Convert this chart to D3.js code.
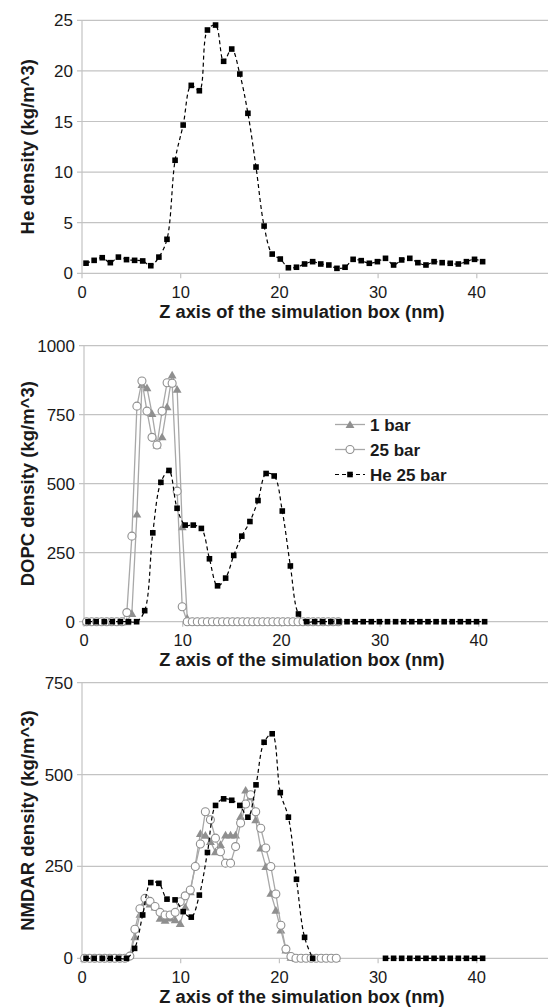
<!DOCTYPE html>
<html><head><meta charset="utf-8">
<script src="https://cdn.jsdelivr.net/npm/d3@7"></script>
<style>html,body{margin:0;padding:0;background:#fff;} svg{display:block;}</style>
</head><body>
<svg id="chart" width="548" height="1007"></svg>
<script>
// ---------- DATA ----------
const xTicks = [0, 10, 20, 30, 40];
const xTitle = "Z axis of the simulation box (nm)";

// He profile sampling positions (nm)
const heZ = [0.41, 1.23, 2.05, 2.87, 3.69, 4.51, 5.33, 6.15, 6.97, 7.79, 8.61, 9.43, 10.25, 11.07, 11.89, 12.71, 13.53, 14.35, 15.17, 15.99, 16.81, 17.63, 18.45, 19.27, 20.09, 20.91, 21.73, 22.55, 23.37, 24.19, 25.01, 25.83, 26.65, 27.47, 28.29, 29.11, 29.93, 30.75, 31.57, 32.39, 33.21, 34.03, 34.85, 35.67, 36.49, 37.31, 38.13, 38.95, 39.77, 40.59];
// 1 bar / 25 bar profile sampling positions (nm)
const grayZ = [0.26, 0.77, 1.28, 1.79, 2.30, 2.81, 3.32, 3.83, 4.34, 4.85, 5.36, 5.87, 6.38, 6.89, 7.40, 7.91, 8.42, 8.93, 9.44, 9.95, 10.46, 10.97, 11.48, 11.99, 12.50, 13.01, 13.52, 14.03, 14.54, 15.05, 15.56, 16.07, 16.58, 17.09, 17.60, 18.11, 18.62, 19.13, 19.64, 20.15, 20.66, 21.17, 21.68, 22.19, 22.70, 23.21, 23.72, 24.23, 24.74, 25.25, 25.76];

// Panel 1: He density
const heTicks = [0, 5, 10, 15, 20, 25];
const heDensity = [1.0, 1.28, 1.54, 1.05, 1.6, 1.35, 1.28, 1.22, 0.75, 1.6, 3.36, 11.17, 14.65, 18.57, 18.04, 24.04, 24.53, 20.95, 22.16, 19.69, 15.81, 10.5, 4.67, 1.9, 1.41, 0.55, 0.6, 0.92, 1.15, 0.92, 0.82, 0.49, 0.6, 1.38, 1.25, 0.99, 1.15, 1.48, 0.82, 1.32, 1.48, 1.05, 0.82, 1.15, 1.05, 0.99, 0.92, 1.15, 1.38, 1.15];

// Panel 2: DOPC density
const dopcTicks = [0, 250, 500, 750, 1000];
const dopc1bar = [0, 0, 0, 0, 0, 0, 0, 0, 0, 30, 390, 860, 848, 755, 640, 670, 779, 894, 842, 344, 13, 0, 0, 0, 0, 0, 0, 0, 0, 0, 0, 0, 0, 0, 0, 0, 0, 0, 0, 0, 0, 0, 0, 0, 0, 0, 0, 0, 0, 0, 0];
const dopc25bar = [0, 0, 0, 0, 0, 0, 0, 0, 33, 310, 781, 872, 763, 668, 640, 763, 866, 864, 473, 54, 0, 0, 0, 0, 0, 0, 0, 0, 0, 0, 0, 0, 0, 0, 0, 0, 0, 0, 0, 0, 0, 0, 0, 0, 0, 0, 0, 0, 0, 0, 0];
const dopcHe25 = [0, 0, 0, 0, 0, 0, 0, 40, 322, 505, 548, 411, 350, 350, 338, 228, 130, 158, 240, 310, 363, 439, 537, 528, 401, 202, 28, 0, 0, 0, 0, 0, 0, 0, 0, 0, 0, 0, 0, 0, 0, 0, 0, 0, 0, 0, 0, 0, 0, 0];

// Panel 3: NMDAR density
const nmdarTicks = [0, 250, 500, 750];
const nmdar1bar = [0, 0, 0, 0, 0, 0, 0, 0, 0, 8, 59, 120, 154, 148, 140, 109, 104, 110, 105, 95, 140, 181, 254, 340, 335, 318, 290, 310, 336, 336, 336, 386, 458, 440, 377, 300, 250, 177, 131, 77, 23, 3, 0, 0, 0, 0, 0, 0, 0, 0, 0];
const nmdar25bar = [0, 0, 0, 0, 0, 0, 0, 0, 0, 6, 79, 135, 163, 155, 141, 125, 118, 118, 125, 154, 170, 186, 250, 311, 399, 377, 327, 290, 259, 259, 304, 368, 420, 445, 399, 354, 300, 250, 175, 90, 25, 5, 0, 0, 0, 0, 0, 0, 0, 0, 0];
const nmdarHe25 = [0, 0, 0, 0, 0, 0, 27, 118, 206, 204, 161, 159, 127, 112, 172, 288, 416, 434, 430, 416, 384, 472, 588, 611, 451, 384, 215, 57, 0, null, null, null, null, null, null, null, null, 0, 0, 0, 0, 0, 0, 0, 0, 0, 0, 0, 0, 0];

const legendLabels = ["1 bar", "25 bar", "He 25 bar"];

// ---------- DRAWING ----------
const svg = d3.select("#chart");
const FONT = "'Liberation Sans', Arial, Helvetica, sans-serif";
const GRID = "#c3c3c3";
const GRAY = "#8f8f8f";
const GRAYLINE = "#a8a8a8";
const TXT = "#1a1a1a";

const panels = [
  {left: 82, top: 20.3, bottom: 273.3, yMax: 25, ticks: heTicks, title: "He density (kg/m^3)",
   series: [{z: heZ, v: heDensity, type: "he"}]},
  {left: 84, top: 345.7, bottom: 621.7, yMax: 1000, ticks: dopcTicks, title: "DOPC density (kg/m^3)",
   series: [{z: grayZ, v: dopc1bar, type: "tri"}, {z: grayZ, v: dopc25bar, type: "circ"}, {z: heZ, v: dopcHe25, type: "he"}],
   legend: true},
  {left: 82, top: 682.7, bottom: 958.3, yMax: 750, ticks: nmdarTicks, title: "NMDAR density (kg/m^3)",
   series: [{z: grayZ, v: nmdar1bar, type: "tri"}, {z: grayZ, v: nmdar25bar, type: "circ"}, {z: heZ, v: nmdarHe25, type: "he"}]}
];

const triPath = d3.symbol(d3.symbolTriangle, 34)();

function drawMarker(g, type, x, y) {
  if (type === "tri") {
    g.append("path").attr("d", triPath).attr("transform", `translate(${x},${y + 1})`)
      .attr("fill", GRAY).attr("stroke", "none");
  } else if (type === "circ") {
    g.append("circle").attr("cx", x).attr("cy", y).attr("r", 4)
      .attr("fill", "#fff").attr("stroke", GRAY).attr("stroke-width", 1.1);
  } else {
    g.append("rect").attr("x", x - 2.8).attr("y", y - 2.8).attr("width", 5.6).attr("height", 5.6)
      .attr("fill", "#000");
  }
}

panels.forEach(p => {
  const x = d3.scaleLinear().domain([0, 50]).range([p.left, p.left + 493.5]);
  const y = d3.scaleLinear().domain([0, p.yMax]).range([p.bottom, p.top]);
  const g = svg.append("g");

  // gridlines
  g.selectAll(".grid").data(p.ticks).join("line")
    .attr("x1", p.left - 5).attr("x2", 548)
    .attr("y1", d => y(d)).attr("y2", d => y(d))
    .attr("stroke", GRID).attr("stroke-width", 1.2);
  // y axis line
  g.append("line").attr("x1", p.left).attr("x2", p.left)
    .attr("y1", y(p.yMax)).attr("y2", y(0)).attr("stroke", GRID).attr("stroke-width", 1.2);
  // x ticks
  g.selectAll(".xt").data(xTicks).join("line")
    .attr("x1", d => x(d)).attr("x2", d => x(d))
    .attr("y1", y(0)).attr("y2", y(0) + 5)
    .attr("stroke", GRID).attr("stroke-width", 1.2);
  // y tick labels
  g.selectAll(".yl").data(p.ticks).join("text")
    .attr("x", p.left - 9).attr("y", d => y(d) + 6)
    .attr("text-anchor", "end").attr("font-family", FONT).attr("font-size", 17)
    .attr("fill", TXT).text(d => d);
  // x tick labels
  g.selectAll(".xl").data(xTicks).join("text")
    .attr("x", d => x(d)).attr("y", y(0) + 24.3)
    .attr("text-anchor", "middle").attr("font-family", FONT).attr("font-size", 16.5)
    .attr("fill", TXT).text(d => d);
  // x title
  g.append("text").attr("x", 302).attr("y", y(0) + 44.5)
    .attr("text-anchor", "middle").attr("font-family", FONT).attr("font-size", 18.3)
    .attr("font-weight", "bold").attr("fill", TXT).text(xTitle);
  // y title
  const cy = (p.top + p.bottom) / 2;
  g.append("text").attr("transform", `translate(34,${cy}) rotate(-90)`)
    .attr("text-anchor", "middle").attr("font-family", FONT).attr("font-size", 18.5)
    .attr("font-weight", "bold").attr("fill", TXT).text(p.title);

  // series
  p.series.forEach(s => {
    const pts = s.z.map((z, i) => ({z, v: s.v[i]}));
    const line = d3.line().defined(d => d.v != null).x(d => x(d.z)).y(d => y(d.v));
    if (s.type === "he") line.curve(d3.curveCatmullRom.alpha(0.5));
    g.append("path").attr("d", line(pts)).attr("fill", "none")
      .attr("stroke", s.type === "he" ? "#000" : GRAYLINE)
      .attr("stroke-width", s.type === "he" ? 1.2 : 1.3)
      .attr("stroke-dasharray", s.type === "he" ? "4,3" : null);
    pts.filter(d => d.v != null).forEach(d => drawMarker(g, s.type, x(d.z), y(d.v)));
  });

  // legend
  if (p.legend) {
    const types = ["tri", "circ", "he"];
    const ly = [424.5, 449.5, 474.5];
    types.forEach((t, i) => {
      const lg = g.append("g");
      lg.append("line").attr("x1", 335).attr("x2", 365).attr("y1", ly[i]).attr("y2", ly[i])
        .attr("stroke", t === "he" ? "#000" : GRAYLINE).attr("stroke-width", t === "he" ? 1.2 : 1.3)
        .attr("stroke-dasharray", t === "he" ? "4,3" : null);
      drawMarker(lg, t, 350, ly[i]);
      lg.append("text").attr("x", 370).attr("y", ly[i] + 6)
        .attr("font-family", FONT).attr("font-size", 17).attr("font-weight", "bold")
        .attr("fill", TXT).text(legendLabels[i]);
    });
  }
});
</script>
</body></html>
